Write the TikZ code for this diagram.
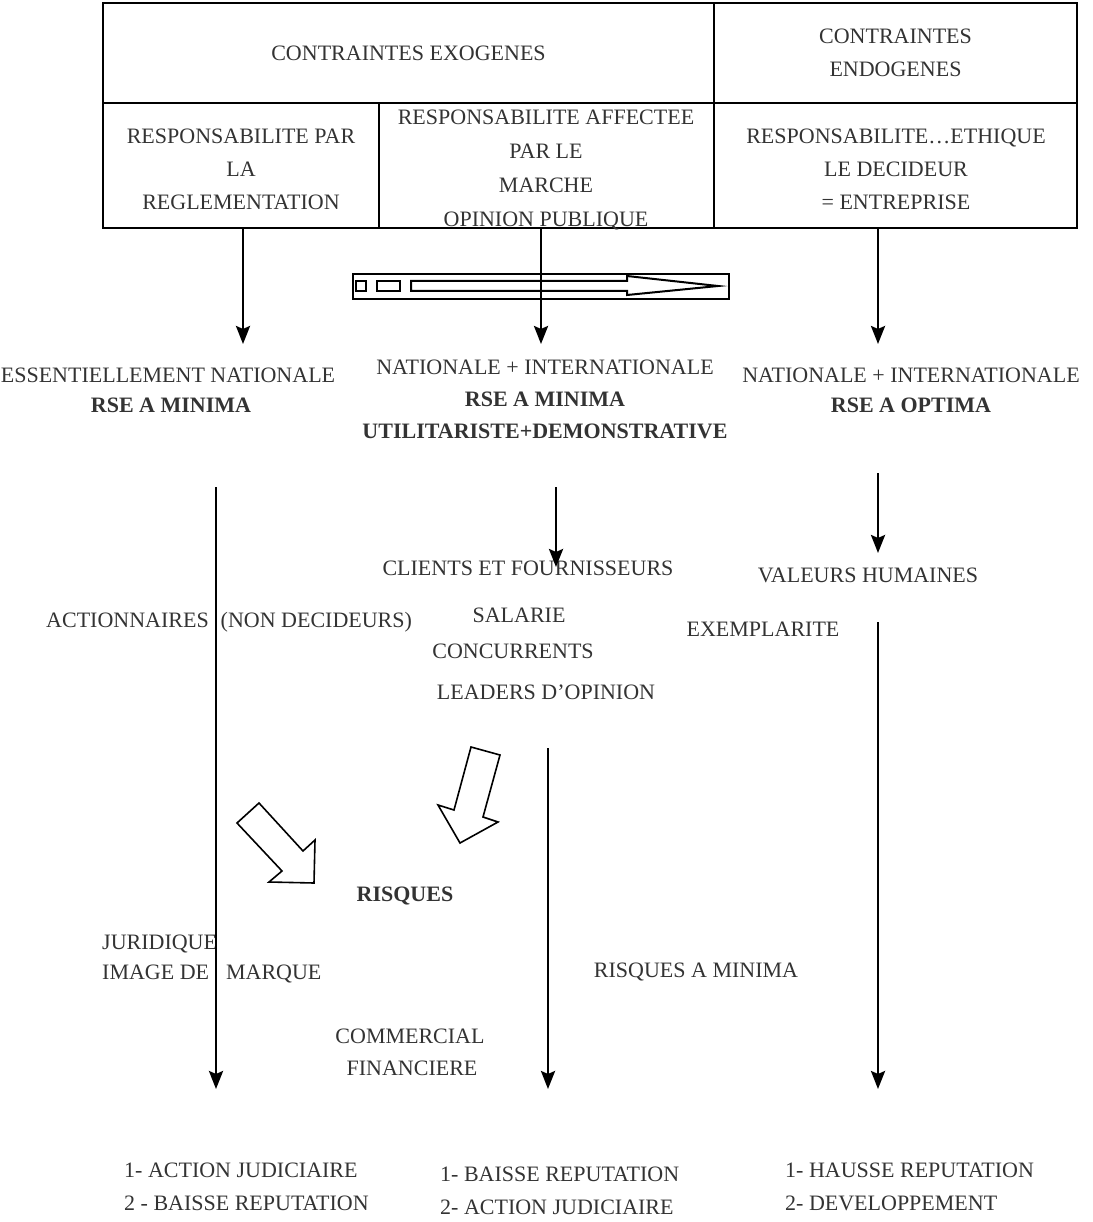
\documentclass[tikz,border=0pt]{standalone}
\usepackage{fontspec}
\setmainfont{Liberation Serif}
\usetikzlibrary{positioning, arrows.meta}

\begin{document}
\begin{tikzpicture}[x=1pt, y=-1pt,
  cell/.style={draw, line width=1.2pt, inner sep=0pt, outer sep=0pt, anchor=north west},
  lbl/.style={font=\fontsize{22}{33}\selectfont, text=black!80, align=center, inner sep=0pt},
  bld/.style={lbl, font=\fontsize{22}{33}\selectfont\bfseries},
  arr/.style={-{Stealth[length=18pt, width=14pt, inset=3pt]}, line width=2.7pt},
  blockarrow/.style={draw, line width=1.6pt, fill=white, line join=miter},
  pen/.style={draw, line width=2pt}]
	\useasboundingbox (0,0) rectangle (1092,1222);

	% table
	\node[cell, minimum width=611pt, minimum height=100pt] (exo) at (103,3) {};
	\node[cell, minimum width=363pt, minimum height=100pt] (endo) at (714,3) {};
	\node[cell, minimum width=276pt, minimum height=125pt] (regl) at (103,103) {};
	\node[cell, minimum width=335pt, minimum height=125pt] (marche) at (379,103) {};
	\node[cell, minimum width=363pt, minimum height=125pt] (ethique) at (714,103) {};

	\node[lbl] (exot) at (exo.center) {CONTRAINTES EXOGENES};
	\node[lbl] (endot) at (endo.center) {CONTRAINTES\\ENDOGENES};
	\node[lbl] (reglt) at (241,169) {RESPONSABILITE PAR\\LA\\REGLEMENTATION};
	\node[lbl, font=\fontsize{22}{34}\selectfont] (marchet) at (546,170) {RESPONSABILITE AFFECTEE\\PAR LE\\MARCHE\\OPINION PUBLIQUE};
	\node[lbl] (ethiquet) at (896,169) {RESPONSABILITE\dots ETHIQUE\\LE DECIDEUR\\= ENTREPRISE};

	% pencil
	\draw[pen] (353,274) rectangle (729,299);
	\draw[pen] (356,281) rectangle (366,291);
	\draw[pen] (377,281) rectangle (400,291);
	\draw[pen] (411,281) -- (627,281) -- (627,276) -- (718,286) -- (627,295) -- (627,291) -- (411,291) -- cycle;

	% level 2
	\node[lbl] (ess) at (168,375) {ESSENTIELLEMENT NATIONALE};
	\node[bld] (rse1) at (171,405) {RSE A MINIMA};
	\node[lbl] (nat2) at (545,367) {NATIONALE + INTERNATIONALE};
	\node[bld] (rse2) at (545,399) {RSE A MINIMA};
	\node[bld] (util) at (545,431) {UTILITARISTE+DEMONSTRATIVE};
	\node[lbl] (nat3) at (911,375) {NATIONALE + INTERNATIONALE};
	\node[bld] (rse3) at (911,405) {RSE A OPTIMA};

	% level 3
	\node[lbl] (clients) at (528,568) {CLIENTS ET FOURNISSEURS};
	\node[lbl] (valeurs) at (868,575) {VALEURS HUMAINES};
	\node[lbl, anchor=west] (action) at (46,622) {ACTIONNAIRES\hspace{12pt}(NON DECIDEURS)};
	\node[lbl] (salarie) at (519,615) {SALARIE};
	\node[lbl] (concur) at (513,651) {CONCURRENTS};
	\node[lbl] (leaders) at (546,692) {LEADERS D’OPINION};
	\node[lbl] (exempl) at (763,629) {EXEMPLARITE};

	% risques
	\node[bld] (risques) at (405,896) {RISQUES};
	\node[lbl, anchor=west] (jurid) at (102,944) {JURIDIQUE};
	\node[lbl, anchor=west] (image) at (102,974) {IMAGE DE\hspace{17pt}MARQUE};
	\node[lbl] (rmin) at (696,972) {RISQUES A MINIMA};
	\node[lbl] (comm) at (410,1036) {COMMERCIAL};
	\node[lbl] (finan) at (412,1068) {FINANCIERE};

	% outcomes
	\node[lbl, align=left, anchor=west] (out1) at (124,1187) {1- ACTION JUDICIAIRE\\2 - BAISSE REPUTATION};
	\node[lbl, align=left, anchor=west] (out2) at (440,1191) {1- BAISSE REPUTATION\\2- ACTION JUDICIAIRE};
	\node[lbl, align=left, anchor=west] (out3) at (785,1187) {1- HAUSSE REPUTATION\\2- DEVELOPPEMENT};

	% block arrows
	\draw[blockarrow] (259,803) -- (303,851) -- (315,840) -- (314,883) -- (269,882) -- (282,871) -- (237,823) -- cycle;
	\draw[blockarrow] (471,747) -- (500,755) -- (483,817) -- (498,822) -- (460,843) -- (438,805) -- (454,810) -- cycle;

	% arrow ends
	\coordinate (s1) at (243,228);
	\coordinate (e1) at (243,344);
	\coordinate (s2) at (541,228);
	\coordinate (e2) at (541,344);
	\coordinate (s3) at (878,228);
	\coordinate (e3) at (878,344);
	\coordinate (s4) at (216,487);
	\coordinate (e4) at (216,1089);
	\coordinate (s5) at (556,487);
	\coordinate (e5) at (556,567);
	\coordinate (s6) at (878,473);
	\coordinate (e6) at (878,553);
	\coordinate (s7) at (548,748);
	\coordinate (e7) at (548,1089);
	\coordinate (s8) at (878,622);
	\coordinate (e8) at (878,1089);

	\path[arr] (s1) edge (e1);
	\path[arr] (s2) edge (e2);
	\path[arr] (s3) edge (e3);
	\path[arr] (s4) edge (e4);
	\path[arr] (s5) edge (e5);
	\path[arr] (s6) edge (e6);
	\path[arr] (s7) edge (e7);
	\path[arr] (s8) edge (e8);
\end{tikzpicture}
\end{document}
